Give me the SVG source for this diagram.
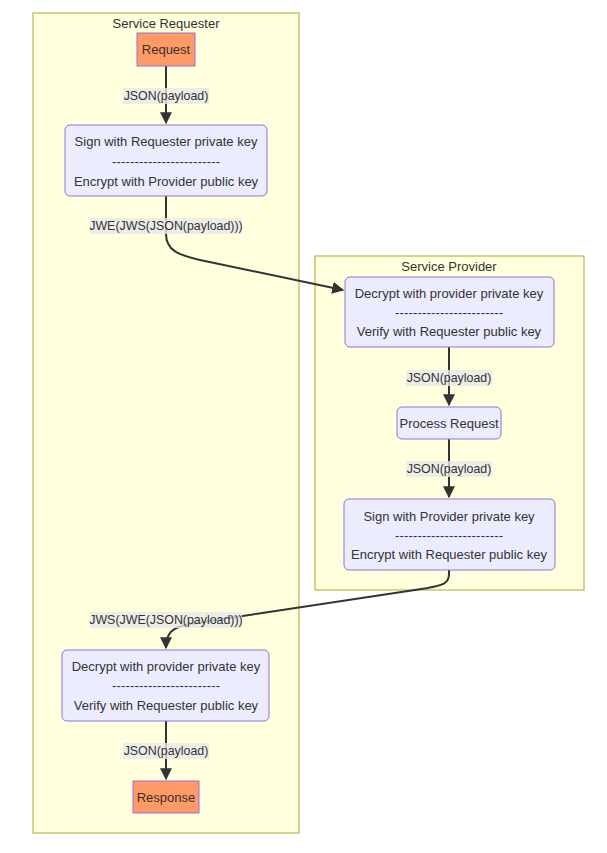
<svg xmlns="http://www.w3.org/2000/svg" width="607" height="853" viewBox="0 0 607 853">
<style>
.bg{fill:#ffffff}
.cluster{fill:#ffffde;stroke:#aaaa33;stroke-width:1}
.node{fill:#ececff;stroke:#9370db;stroke-width:1}
.term{fill:#ff9966;stroke:#9370db;stroke-width:1}
.t{font-family:"Liberation Sans",Arial,sans-serif;font-size:13px;fill:#333333;text-anchor:middle;dominant-baseline:central}
.el{font-size:12.4px}
.lbl{fill:#e8e8e8;opacity:0.8}
.edge{fill:none;stroke:#333333;stroke-width:2}
</style>
<defs>
<marker id="arrow" viewBox="0 0 10 10" refX="9" refY="5" markerWidth="6" markerHeight="6" markerUnits="strokeWidth" orient="auto">
<path d="M0,0 L10,5 L0,10 z" fill="#333333"/>
</marker>
</defs>
<rect class="bg" x="0" y="0" width="607" height="853"/>
<g id="cluster-requester">
<rect class="cluster" x="33" y="13" width="266" height="820"/>
<text class="t" x="166" y="23">Service Requester</text>
</g>
<g id="cluster-provider">
<rect class="cluster" x="315" y="256" width="269" height="334"/>
<text class="t" x="449" y="266">Service Provider</text>
</g>
<g id="connectors">
<path class="edge" d="M166,66 L166,123" marker-end="url(#arrow)"/>
<path class="edge" d="M166,196 L166,234 C166,250 178,255 200,260 L343,290" marker-end="url(#arrow)"/>
<path class="edge" d="M449,347 L449,405" marker-end="url(#arrow)"/>
<path class="edge" d="M449,439 L449,497" marker-end="url(#arrow)"/>
<path class="edge" d="M449,570 L449,574 C449,584 442,585 428,588 L190,624 C172,627 166,633 166,648" marker-end="url(#arrow)"/>
<path class="edge" d="M166,721 L166,779" marker-end="url(#arrow)"/>
<g id="edge-labels">
<rect class="lbl" x="123" y="88" width="86" height="16"/>
<text class="t el" x="166" y="96">JSON(payload)</text>
<rect class="lbl" x="90" y="218" width="152" height="16"/>
<text class="t el" x="166" y="226">JWE(JWS(JSON(payload)))</text>
<rect class="lbl" x="406" y="370" width="86" height="16"/>
<text class="t el" x="449" y="378">JSON(payload)</text>
<rect class="lbl" x="406" y="461" width="86" height="16"/>
<text class="t el" x="449" y="469">JSON(payload)</text>
<rect class="lbl" x="90" y="612" width="152" height="16"/>
<text class="t el" x="166" y="620">JWS(JWE(JSON(payload)))</text>
<rect class="lbl" x="123" y="743" width="86" height="16"/>
<text class="t el" x="166" y="751">JSON(payload)</text>
</g>
</g>
<g id="node-request">
<rect class="term" x="137" y="33" width="58" height="33"/>
<text class="t" x="166" y="49">Request</text>
</g>
<g id="node-sign-requester">
<rect class="node" x="65" y="125" width="202" height="71" rx="5" ry="5"/>
<text class="t" x="166" y="141">Sign with Requester private key</text>
<text class="t" x="166" y="161" textLength="108">------------------------</text>
<text class="t" x="166" y="181">Encrypt with Provider public key</text>
</g>
<g id="node-decrypt-provider">
<rect class="node" x="345" y="277" width="209" height="70" rx="5" ry="5"/>
<text class="t" x="449" y="293">Decrypt with provider private key</text>
<text class="t" x="449" y="312" textLength="108">------------------------</text>
<text class="t" x="449" y="331">Verify with Requester public key</text>
</g>
<g id="node-process">
<rect class="node" x="397" y="407" width="104" height="32" rx="5" ry="5"/>
<text class="t" x="449" y="423">Process Request</text>
</g>
<g id="node-sign-provider">
<rect class="node" x="344" y="499" width="211" height="71" rx="5" ry="5"/>
<text class="t" x="449" y="516">Sign with Provider private key</text>
<text class="t" x="449" y="535" textLength="108">------------------------</text>
<text class="t" x="449" y="554">Encrypt with Requester public key</text>
</g>
<g id="node-decrypt-requester">
<rect class="node" x="62" y="650" width="207" height="71" rx="5" ry="5"/>
<text class="t" x="166" y="666">Decrypt with provider private key</text>
<text class="t" x="166" y="685" textLength="108">------------------------</text>
<text class="t" x="166" y="705">Verify with Requester public key</text>
</g>
<g id="node-response">
<rect class="term" x="133" y="781" width="66" height="32"/>
<text class="t" x="166" y="797">Response</text>
</g>
</svg>
